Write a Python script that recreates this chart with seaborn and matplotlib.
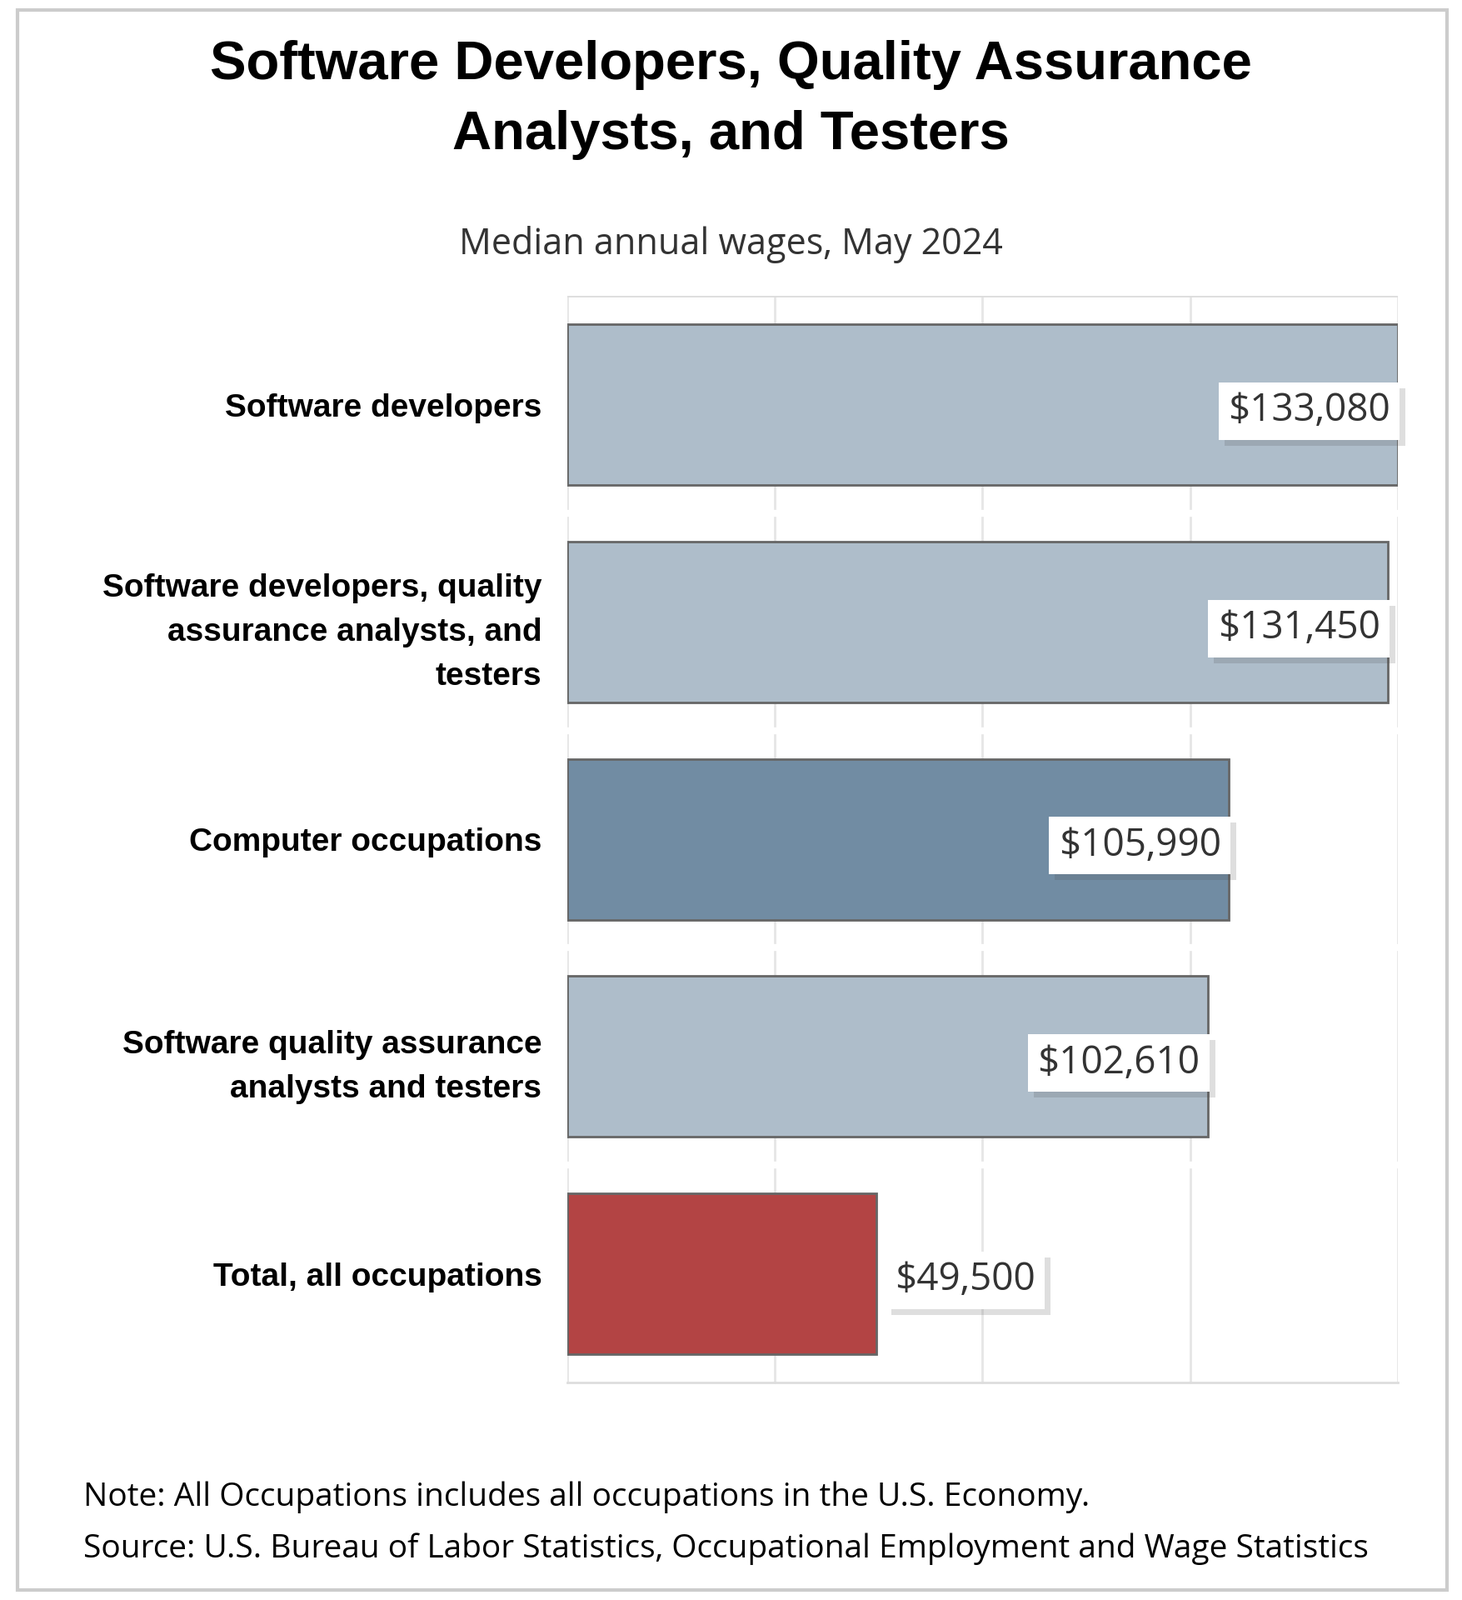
import matplotlib
matplotlib.use("Agg")
import matplotlib.pyplot as plt
import matplotlib.patheffects as pe
from matplotlib.patches import Rectangle
import seaborn as sns
import pandas as pd

categories = ["Software developers",
              "Software developers, quality\nassurance analysts, and\ntesters",
              "Computer occupations",
              "Software quality assurance\nanalysts and testers",
              "Total, all occupations"]
wages = [133080, 131450, 105990, 102610, 49500]
labels = ["$133,080", "$131,450", "$105,990", "$102,610", "$49,500"]
colors = ["#aebdca", "#aebdca", "#718ca3", "#aebdca", "#b34444"]

df = pd.DataFrame({"cat": categories, "wage": wages})

fig = plt.figure(figsize=(17.55, 19.2), dpi=100)
ax = fig.add_axes([0.388, 0.136, 0.568, 0.679])
sns.barplot(data=df, y="cat", x="wage", hue="cat", palette=colors, legend=False,
            orient="h", width=0.74, edgecolor="#666666", linewidth=2, ax=ax, zorder=3,
            saturation=1)
ax.set_xlim(0, 133080)
ax.set_ylim(4.5, -0.5)
ax.set_xticks([133080 * i / 4 for i in range(5)])
ax.set_xticklabels([])
ax.tick_params(length=0)
ax.grid(axis="x", color="#e6e6e6", linewidth=2, zorder=0)
ax.grid(axis="y", visible=False)
for s in ["top", "right", "left"]:
    ax.spines[s].set_visible(False)
ax.spines["bottom"].set_color("#dddddd")
ax.spines["bottom"].set_linewidth(2)
ax.set_xlabel("")
ax.set_ylabel("")
ax.set_yticks(range(5))
ax.set_yticklabels(categories, fontsize=28, fontweight="bold", fontfamily="Liberation Sans",
                   linespacing=1.6)
ax.tick_params(axis="y", pad=22)
for b in [0.5, 1.5, 2.5, 3.5]:
    ax.axhline(b, color="white", linewidth=6, zorder=2)
ax.axhline(-0.5, color="#dddddd", linewidth=2, zorder=2)

for i, (w, lab) in enumerate(zip(wages, labels)):
    if w > 60000:
        x, ha = w - 1200, "right"
    else:
        x, ha = w + 3000, "left"
    ax.text(x, i + 0.03, lab, ha=ha, va="center", fontsize=33, color="#333333",
            fontfamily="Open Sans", zorder=5,
            bbox=dict(boxstyle="square,pad=0.25", fc="white", ec="none",
                      path_effects=[pe.withSimplePatchShadow(offset=(5, -5), alpha=0.18)]))

fig.text(0.5, 0.975, "Software Developers, Quality Assurance\nAnalysts, and Testers",
         ha="center", va="top", fontsize=47, fontweight="bold",
         fontfamily="Liberation Sans", linespacing=1.5)
fig.text(0.5, 0.847, "Median annual wages, May 2024", ha="center", va="center",
         fontsize=31, color="#333333", fontfamily="Open Sans")
fig.text(0.057, 0.064, "Note: All Occupations includes all occupations in the U.S. Economy.",
         ha="left", va="center", fontsize=28, fontfamily="Open Sans")
fig.text(0.057, 0.032, "Source: U.S. Bureau of Labor Statistics, Occupational Employment and Wage Statistics",
         ha="left", va="center", fontsize=28, fontfamily="Open Sans")
fig.patches.append(Rectangle((0.012, 0.006), 0.978, 0.988, transform=fig.transFigure,
                             fill=False, ec="#cccccc", lw=3))
fig.savefig("out.png", dpi=100, facecolor="white")
